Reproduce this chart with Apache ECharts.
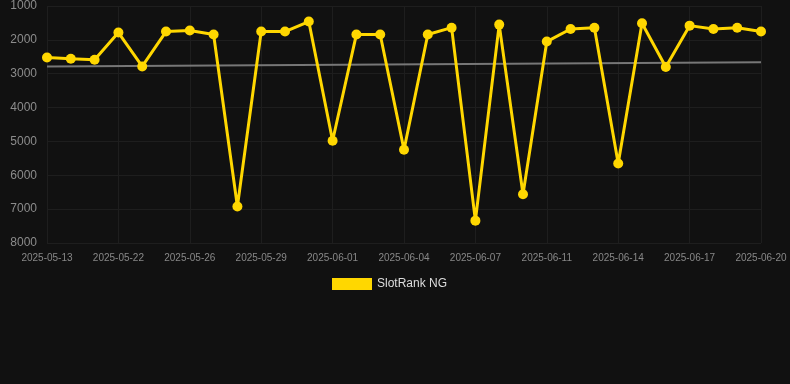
<!DOCTYPE html>
<html>
<head>
<meta charset="utf-8">
<script src="https://cdn.jsdelivr.net/npm/echarts@6/dist/echarts.min.js"></script>
<style>
  html, body { margin: 0; padding: 0; background: #111111; }
  #chart_container { width: 790px; height: 384px; }
</style>
</head>
<body>
<div id="chart_container"></div>
<script>
"use strict";

// categories (one per rank sample)
const dates = [
  "2025-05-13", "2025-05-16", "2025-05-20", "2025-05-22", "2025-05-23", "2025-05-25",
  "2025-05-26", "2025-05-27", "2025-05-28", "2025-05-29", "2025-05-30", "2025-05-31",
  "2025-06-01", "2025-06-02", "2025-06-03", "2025-06-04", "2025-06-05", "2025-06-06",
  "2025-06-07", "2025-06-08", "2025-06-10", "2025-06-11", "2025-06-12", "2025-06-13",
  "2025-06-14", "2025-06-15", "2025-06-16", "2025-06-17", "2025-06-18", "2025-06-19",
  "2025-06-20"
];

const rankNG = [
  2520, 2560, 2590, 1785, 2785, 1755, 1725, 1840, 6920, 1755, 1755, 1460,
  4980, 1840, 1840, 5245, 1840, 1640, 7340, 1550, 6560, 2050, 1680, 1640,
  5650, 1510, 2800, 1580, 1680, 1640, 1755
];

// trend line: first and last value only
const trendEnds = [2785, 2665];

const yTicks = [1000, 8000, 1000]; // min, max, interval

let trendData = dates.map(() => null);
trendData[0] = trendEnds[0];
trendData[dates.length - 1] = trendEnds[1];

let pageLoaded = () => {
    let chartDom = document.getElementById('chart_container');
    let myChart = echarts.init(chartDom, null, { renderer: 'canvas' });

    const optEchart = {
        backgroundColor: '#111111',
        animation: false,
        grid: { left: 47, right: 29, top: 6, height: 237 },
        legend: {
            data: ['SlotRank NG'],
            top: 273,
            left: 327,
            itemWidth: 40,
            itemHeight: 12,
            icon: 'rect',
            textStyle: { color: '#dddddd', fontSize: 12, fontFamily: 'Liberation Sans, Arial, sans-serif' }
        },
        xAxis: {
            type: 'category',
            data: dates,
            boundaryGap: false,
            axisLine: { show: false },
            axisTick: { show: false },
            axisLabel: {
                interval: 2,
                color: '#888888',
                fontSize: 10,
                margin: 10,
                fontFamily: 'Liberation Sans, Arial, sans-serif'
            },
            splitLine: { show: true, interval: 2, lineStyle: { color: '#1e1e1e', width: 1 } }
        },
        yAxis: {
            type: 'value',
            inverse: true,
            min: yTicks[0],
            max: yTicks[1],
            interval: yTicks[2],
            axisLine: { show: false },
            axisTick: { show: false },
            axisLabel: {
                color: '#8c8c8c',
                fontSize: 12,
                margin: 10,
                formatter: (v) => String(v),
                fontFamily: 'Liberation Sans, Arial, sans-serif'
            },
            splitLine: { lineStyle: { color: '#1e1e1e', width: 1 } }
        },
        series: [
            {
                name: 'Trend',
                type: 'line',
                data: trendData,
                connectNulls: true,
                symbol: 'none',
                lineStyle: { color: '#777777', width: 2 },
                z: 1
            },
            {
                name: 'SlotRank NG',
                type: 'line',
                data: rankNG,
                symbol: 'circle',
                symbolSize: 10,
                itemStyle: { color: '#FFD700' },
                lineStyle: { color: '#FFD700', width: 3 },
                z: 2
            }
        ]
    };

    optEchart && myChart.setOption(optEchart);
};

window.addEventListener('load', pageLoaded, false);
</script>
</body>
</html>
